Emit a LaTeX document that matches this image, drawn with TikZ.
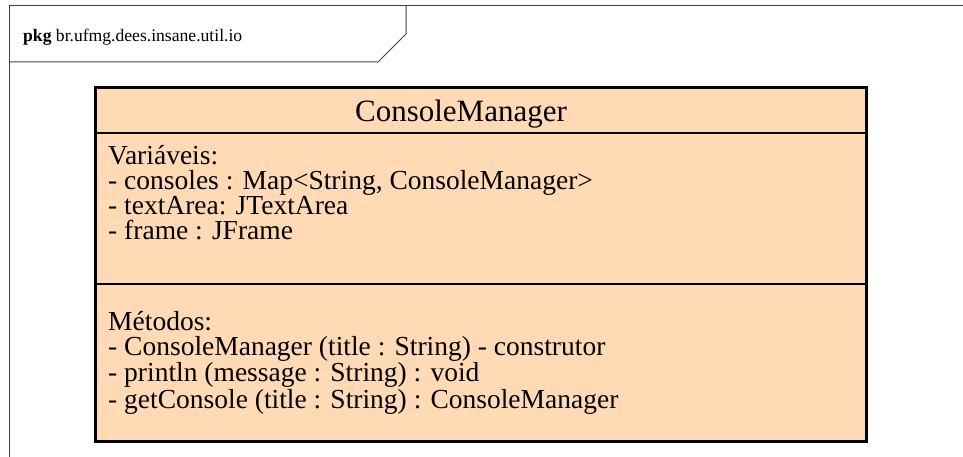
\documentclass[tikz,border=0pt]{standalone}
\usepackage{fontspec}
\setmainfont{Liberation Serif}
\usetikzlibrary{positioning}
\definecolor{classfill}{RGB}{255,218,180}

\begin{document}
\begin{tikzpicture}[x=1pt,y=-1pt]
    \tikzstyle{pkgline}=[draw=black!75, line width=1pt]
    \tikzstyle{classbox}=[rectangle, draw, fill=classfill, line width=3pt, inner sep=0pt, minimum width=771pt, minimum height=354pt, anchor=north west]
    \tikzstyle{member}=[anchor=base west, align=left, inner sep=0pt, font=\fontsize{27.5}{25}\selectfont]
    \useasboundingbox (0,0) rectangle (963,457);
    % package frame and its tab
    \draw[pkgline] (9,457) -- (9,6) -- (963,6);
    \draw[pkgline] (406,6) -- (406,34) -- (378,62) -- (9,62);
    \node[anchor=base west, inner sep=0pt, font=\fontsize{17.6}{20}\selectfont] (pkg) at (23,42) {\textbf{pkg} br.ufmg.dees.insane.util.io};
    % the class
    \node[classbox] (cm) at (94,86) {};
    \draw[line width=1.5pt] (94,133) -- (865,133);
    \draw[line width=1.5pt] (94,284) -- (865,284);
    \node[anchor=base, inner sep=0pt, font=\fontsize{31}{36}\selectfont] (title) at (461,122) {ConsoleManager};
    % base anchor sits on the last line
    \node[member] (vars) at (108,239.5) {Variáveis:\\
      - consoles : Map<String, ConsoleManager>\\
      - textArea: JTextArea\\
      - frame : JFrame};
    \node[member] (meths) at (108,408) {Métodos:\\
      - ConsoleManager (title : String) - construtor\\
      - println (message : String) : void\\
      - getConsole (title : String) : ConsoleManager};
\end{tikzpicture}
\end{document}
